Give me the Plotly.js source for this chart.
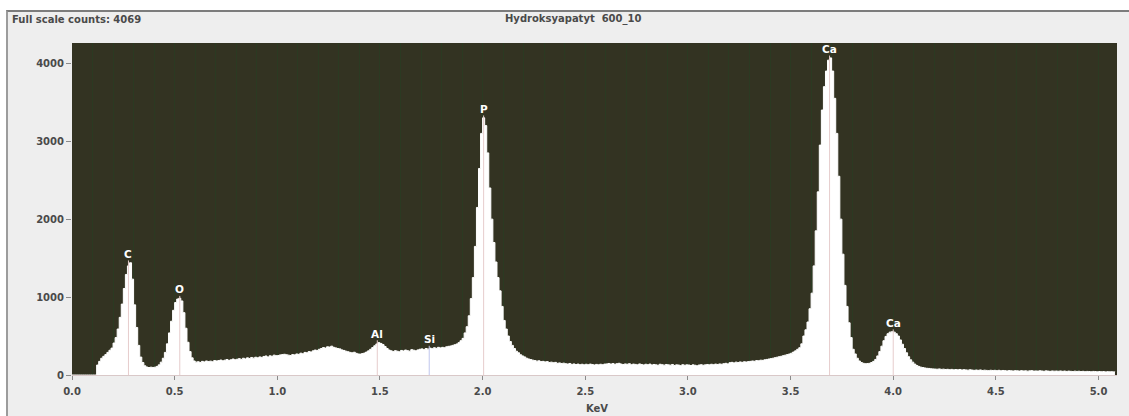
<!DOCTYPE html>
<html>
<head>
<meta charset="utf-8">
<script src="https://cdn.plot.ly/plotly-3.0.1.min.js"></script>
<style>
  html, body { margin: 0; padding: 0; background: #ffffff; width: 1129px; height: 416px; overflow: hidden; }
  #frame { position: absolute; left: 6px; top: 10px; width: 1123px; height: 406px;
           border-top: 2px solid #7c7c7c; border-left: 2px solid #9c9c9c; background: #eeeeee; }
  #chart { width: 1121px; height: 404px; }
</style>
</head>
<body>
<div id="frame"><div id="chart"></div></div>
<script>
// ---- data ----
const channelWidthKeV = 0.01;
// counts per 0.01 keV channel, one row = 0.1 keV (row start energy in comment)
const counts = [
  /*0.0*/ 0,0,0,0,0,0,0,0,0,0,
  /*0.1*/ 0,0,128,175,215,240,262,290,318,345,
  /*0.2*/ 410,480,590,740,910,1110,1290,1400,1440,1230,
  /*0.3*/ 900,610,380,230,160,118,102,96,100,97,
  /*0.4*/ 100,110,130,165,215,290,400,540,690,830,
  /*0.5*/ 930,975,985,950,800,600,420,300,220,180,
  /*0.6*/ 165,170,160,175,168,180,172,178,170,185,
  /*0.7*/ 180,185,192,182,190,198,188,195,205,195,
  /*0.8*/ 202,210,200,215,206,220,212,225,216,228,
  /*0.9*/ 220,232,226,238,244,230,246,240,255,248,
  /*1.0*/ 250,258,262,266,260,255,250,262,258,270,
  /*1.1*/ 265,280,272,290,285,300,295,310,320,315,
  /*1.2*/ 330,340,352,345,362,358,370,355,348,340,
  /*1.3*/ 335,322,315,305,298,290,285,292,278,270,
  /*1.4*/ 268,275,282,295,310,330,352,375,398,415,
  /*1.5*/ 405,390,365,340,320,310,300,312,305,298,
  /*1.6*/ 315,308,320,312,305,325,318,310,322,330,
  /*1.7*/ 335,325,340,332,345,338,350,342,355,348,
  /*1.8*/ 355,350,362,368,372,380,388,398,415,440,
  /*1.9*/ 470,540,620,760,980,1250,1650,2150,2650,3100,
  /*2.0*/ 3300,3200,2850,2400,2000,1700,1450,1250,1080,880,
  /*2.1*/ 700,590,500,430,380,340,305,285,260,245,
  /*2.2*/ 232,215,205,198,190,185,178,182,172,175,
  /*2.3*/ 168,172,160,165,158,162,150,155,148,152,
  /*2.4*/ 145,140,148,136,142,135,140,132,138,130,
  /*2.5*/ 138,132,140,134,128,136,130,138,132,140,
  /*2.6*/ 142,148,140,146,138,145,150,140,135,142,
  /*2.7*/ 138,145,132,140,136,130,142,135,128,138,
  /*2.8*/ 132,140,128,135,130,125,138,132,126,135,
  /*2.9*/ 130,126,135,122,130,128,120,132,125,130,
  /*3.0*/ 128,122,130,125,118,128,132,125,130,135,
  /*3.1*/ 130,138,132,140,135,142,138,145,150,142,
  /*3.2*/ 158,162,155,165,160,168,162,170,166,172,
  /*3.3*/ 175,180,176,185,182,190,188,195,200,205,
  /*3.4*/ 210,215,222,228,235,240,248,255,262,270,
  /*3.5*/ 280,295,310,330,350,400,500,580,680,850,
  /*3.6*/ 1050,1400,1850,2350,2950,3400,3700,3900,4040,4069,
  /*3.7*/ 3900,3550,3100,2550,2000,1550,1150,880,670,480,
  /*3.8*/ 330,270,215,180,160,150,145,148,150,160,
  /*3.9*/ 175,200,245,300,370,440,495,530,550,555,
  /*4.0*/ 550,530,500,450,395,340,285,235,195,165,
  /*4.1*/ 140,122,110,100,95,90,86,84,80,78,
  /*4.2*/ 76,74,78,72,75,70,73,68,72,66,
  /*4.3*/ 70,66,71,64,68,65,62,67,63,60,
  /*4.4*/ 64,60,65,58,62,59,56,61,58,60,
  /*4.5*/ 56,60,54,58,56,52,57,54,51,56,
  /*4.6*/ 54,50,56,52,54,49,53,56,50,52,
  /*4.7*/ 50,54,51,48,53,50,47,52,49,51,
  /*4.8*/ 48,52,47,51,46,50,47,44,49,46,
  /*4.9*/ 48,44,47,43,46,45,42,46,44,41,
  /*5.0*/ 45,42,44,40,43,41,42,40,43
];
const elementNames = ['C', 'O', 'Al', 'Si', 'P', 'Ca', 'Ca'];
const elementKeV   = [0.275, 0.525, 1.487, 1.740, 2.005, 3.690, 4.000];
const xTickVals = [0, 0.5, 1.0, 1.5, 2.0, 2.5, 3.0, 3.5, 4.0, 4.5, 5.0];
const xTickText = ['0.0','0.5','1.0','1.5','2.0','2.5','3.0','3.5','4.0','4.5','5.0'];
const yTickVals = [0, 1000, 2000, 3000, 4000];
const yTickText = ['0', '1000', '2000', '3000', '4000'];
const titleText = 'Hydroksyapatyt&nbsp;&nbsp;600_10';
const fullScaleText = 'Full scale counts: 4069';
const xAxisLabel = 'KeV';

// ---- derived ----
const energy = counts.map((_, i) => +(i * channelWidthKeV).toFixed(2));
function localMax(e) {
  let m = 0;
  energy.forEach((x, i) => { if (Math.abs(x - e) <= 0.02 && counts[i] > m) m = counts[i]; });
  return m;
}
const peakTop = elementKeV.map(localMax);

const traces = [{
  x: energy, y: counts, type: 'scatter', mode: 'lines',
  line: { shape: 'hv', color: '#ffffff', width: 1 },
  fill: 'tozeroy', fillcolor: '#ffffff', hoverinfo: 'skip'
}];
// element marker lines
const mx = [], my = [], sx = [], sy = [];
elementKeV.forEach((e, i) => {
  const tx = elementNames[i] === 'Si' ? sx : mx;
  const ty = elementNames[i] === 'Si' ? sy : my;
  tx.push(e, e, null); ty.push(0, peakTop[i] + 30, null);
});
traces.push({ x: mx, y: my, type: 'scatter', mode: 'lines', line: { color: '#e6cccc', width: 1 }, hoverinfo: 'skip' });
traces.push({ x: sx, y: sy, type: 'scatter', mode: 'lines', line: { color: '#c0c6ee', width: 1 }, hoverinfo: 'skip' });

const FONT = 'DejaVu Sans, Verdana, sans-serif';
const tickFont = { family: FONT, size: 10, color: '#4a4a4a', weight: 'bold' };
const annotations = elementKeV.map((e, i) => ({
  x: e, y: peakTop[i], xref: 'x', yref: 'y', text: elementNames[i], showarrow: false,
  xanchor: 'center', yanchor: 'bottom', yshift: 1,
  font: { family: FONT, size: 10.5, color: '#ffffff', weight: 'bold' }
}));
annotations.push({ xref: 'paper', yref: 'paper', x: -0.0593, y: 1.072, xanchor: 'left', yanchor: 'middle',
  text: fullScaleText, showarrow: false, font: tickFont });
annotations.push({ xref: 'paper', yref: 'paper', x: 0.479, y: 1.072, xanchor: 'center', yanchor: 'middle',
  text: titleText, showarrow: false, font: tickFont });
annotations.push({ xref: 'paper', yref: 'paper', x: 0.502, y: -0.102, xanchor: 'center', yanchor: 'middle',
  text: xAxisLabel, showarrow: false, font: tickFont });

const layout = {
  width: 1121, height: 404,
  margin: { l: 64, r: 12, t: 31, b: 41, pad: 0 },
  paper_bgcolor: '#eeeeee', plot_bgcolor: '#333322',
  showlegend: false, hovermode: false,
  xaxis: {
    range: [0, 5.09], tickmode: 'array', tickvals: xTickVals, ticktext: xTickText,
    ticks: 'outside', ticklen: 4, tickcolor: '#8a8a8a', tickfont: tickFont, ticklabelstandoff: 3,
    showline: true, linecolor: '#d9c8c8', linewidth: 1,
    showgrid: true, gridcolor: '#2b3a22', gridwidth: 1,
    minor: { dtick: 0.1, tick0: 0, showgrid: true, gridcolor: '#2b3a22', gridwidth: 1, ticks: '' },
    zeroline: false, fixedrange: true
  },
  yaxis: {
    range: [0, 4260], tickmode: 'array', tickvals: yTickVals, ticktext: yTickText,
    ticks: 'outside', ticklen: 5, tickcolor: '#8a8a8a', tickfont: tickFont,
    showline: false, showgrid: false, zeroline: false, fixedrange: true
  },
  annotations: annotations
};
Plotly.newPlot('chart', traces, layout, { displayModeBar: false, staticPlot: true });
</script>
</body>
</html>
